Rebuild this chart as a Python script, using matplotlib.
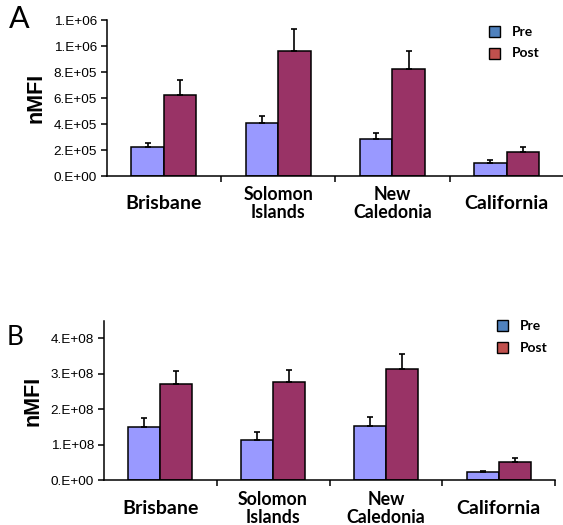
import numpy as np
import matplotlib
matplotlib.use("Agg")
import matplotlib.pyplot as plt
import matplotlib.transforms as mtransforms
from matplotlib.patches import Rectangle
from matplotlib.ticker import FuncFormatter

categories = ["Brisbane", "Solomon\nIslands", "New\nCaledonia", "California"]
series_names = ["Pre", "Post"]

a_pre = [2.28e5, 4.10e5, 2.87e5, 1.05e5]
a_pre_err = [0.30e5, 0.56e5, 0.44e5, 0.18e5]
a_post = [6.28e5, 9.62e5, 8.23e5, 1.89e5]
a_post_err = [1.15e5, 1.73e5, 1.43e5, 0.34e5]

b_pre = [1.49e8, 1.14e8, 1.52e8, 0.24e8]
b_pre_err = [0.27e8, 0.22e8, 0.27e8, 0.03e8]
b_post = [2.72e8, 2.76e8, 3.15e8, 0.52e8]
b_post_err = [0.35e8, 0.36e8, 0.42e8, 0.10e8]

a_yticks = [0, 2e5, 4e5, 6e5, 8e5, 1.0e6, 1.2e6]
b_yticks = [0, 1e8, 2e8, 3e8, 4e8]

PRE_BAR = "#9999FF"
POST_BAR = "#993366"
PRE_LEG = "#4F81BD"
POST_LEG = "#C0504D"

W, H = 563, 525
fig = plt.figure(figsize=(W / 100, H / 100), dpi=100)

def px_axes(left, top, right, bottom):
    return fig.add_axes([left / W, 1 - bottom / H, (right - left) / W, (bottom - top) / H])

def fmt(v, pos):
    return f"{v:#.0E}"

label_sizes = [14, 12.8, 12.8, 14]

def draw_panel(ax, pre, pre_err, post, post_err, yticks, ymax, letter, letter_xy, letter_fs,
               leg_x, leg_y, label_off):
    x = np.arange(len(categories))
    w = 0.285
    ax.bar(x - w / 2, pre, w, color=PRE_BAR, edgecolor="black", linewidth=1.1, zorder=2)
    ax.bar(x + w / 2, post, w, color=POST_BAR, edgecolor="black", linewidth=1.1, zorder=2)
    ax.errorbar(x - w / 2, pre, yerr=[np.zeros(len(pre)), pre_err], fmt="none",
                ecolor="black", elinewidth=1.2, capsize=2, capthick=1.2, zorder=3)
    ax.errorbar(x + w / 2, post, yerr=[np.zeros(len(post)), post_err], fmt="none",
                ecolor="black", elinewidth=1.2, capsize=2, capthick=1.2, zorder=3)
    ax.set_xlim(-0.5, 3.5)
    ax.set_ylim(0, ymax)
    ax.set_yticks(yticks)
    ax.yaxis.set_major_formatter(FuncFormatter(fmt))
    for lab in ax.get_yticklabels():
        lab.set_fontfamily("Liberation Sans")
        lab.set_fontsize(9.7)
    ax.tick_params(axis="y", direction="out", length=4, width=1.1, pad=3)
    ax.set_xticks([0.5, 1.5, 2.5, 3.5])
    ax.set_xticklabels([])
    ax.tick_params(axis="x", direction="out", length=4, width=1.1)
    for s in ["top", "right"]:
        ax.spines[s].set_visible(False)
    for s in ["left", "bottom"]:
        ax.spines[s].set_linewidth(1.1)
    ax.set_ylabel("nMFI", fontfamily="Liberation Sans", fontweight="bold", fontsize=15.5,
                  labelpad=5)
    base = mtransforms.blended_transform_factory(ax.transData, ax.transAxes)
    for i, (cat, fs) in enumerate(zip(categories, label_sizes)):
        tr = base + mtransforms.ScaledTranslation(0, -label_off / 100, fig.dpi_scale_trans)
        ax.text(i, 0, cat, transform=tr, ha="center", va="center", fontsize=fs,
                fontfamily="Lato", fontweight="bold", linespacing=1.1)
    fig.text(letter_xy[0] / W, 1 - letter_xy[1] / H, letter, fontsize=letter_fs,
             fontfamily="Lato", ha="center", va="center")
    for j, (name, c) in enumerate(zip(series_names, [PRE_LEG, POST_LEG])):
        yc = leg_y[j]
        fig.add_artist(Rectangle((leg_x / W, 1 - (yc + 5.5) / H), 11 / W, 11 / H,
                                 transform=fig.transFigure, facecolor=c,
                                 edgecolor="black", linewidth=1.0))
        fig.text((leg_x + 23) / W, 1 - yc / H, name, fontsize=10, fontfamily="Lato",
                 fontweight="bold", ha="left", va="center")

axA = px_axes(106.7, 20.3, 106.7 + 4 * 114.3, 176.3)
draw_panel(axA, a_pre, a_pre_err, a_post, a_post_err, a_yticks, 1.2e6, "A", (19, 19), 22,
           489.3, [31.7, 53.3], 27)

axB = px_axes(103.7, 320.7, 555.3, 480.3)
draw_panel(axB, b_pre, b_pre_err, b_post, b_post_err, b_yticks, 4.5e8, "B", (15.5, 337.5), 19,
           496.7, [325.7, 347.7], 28)

fig.savefig("out.png", dpi=100)
